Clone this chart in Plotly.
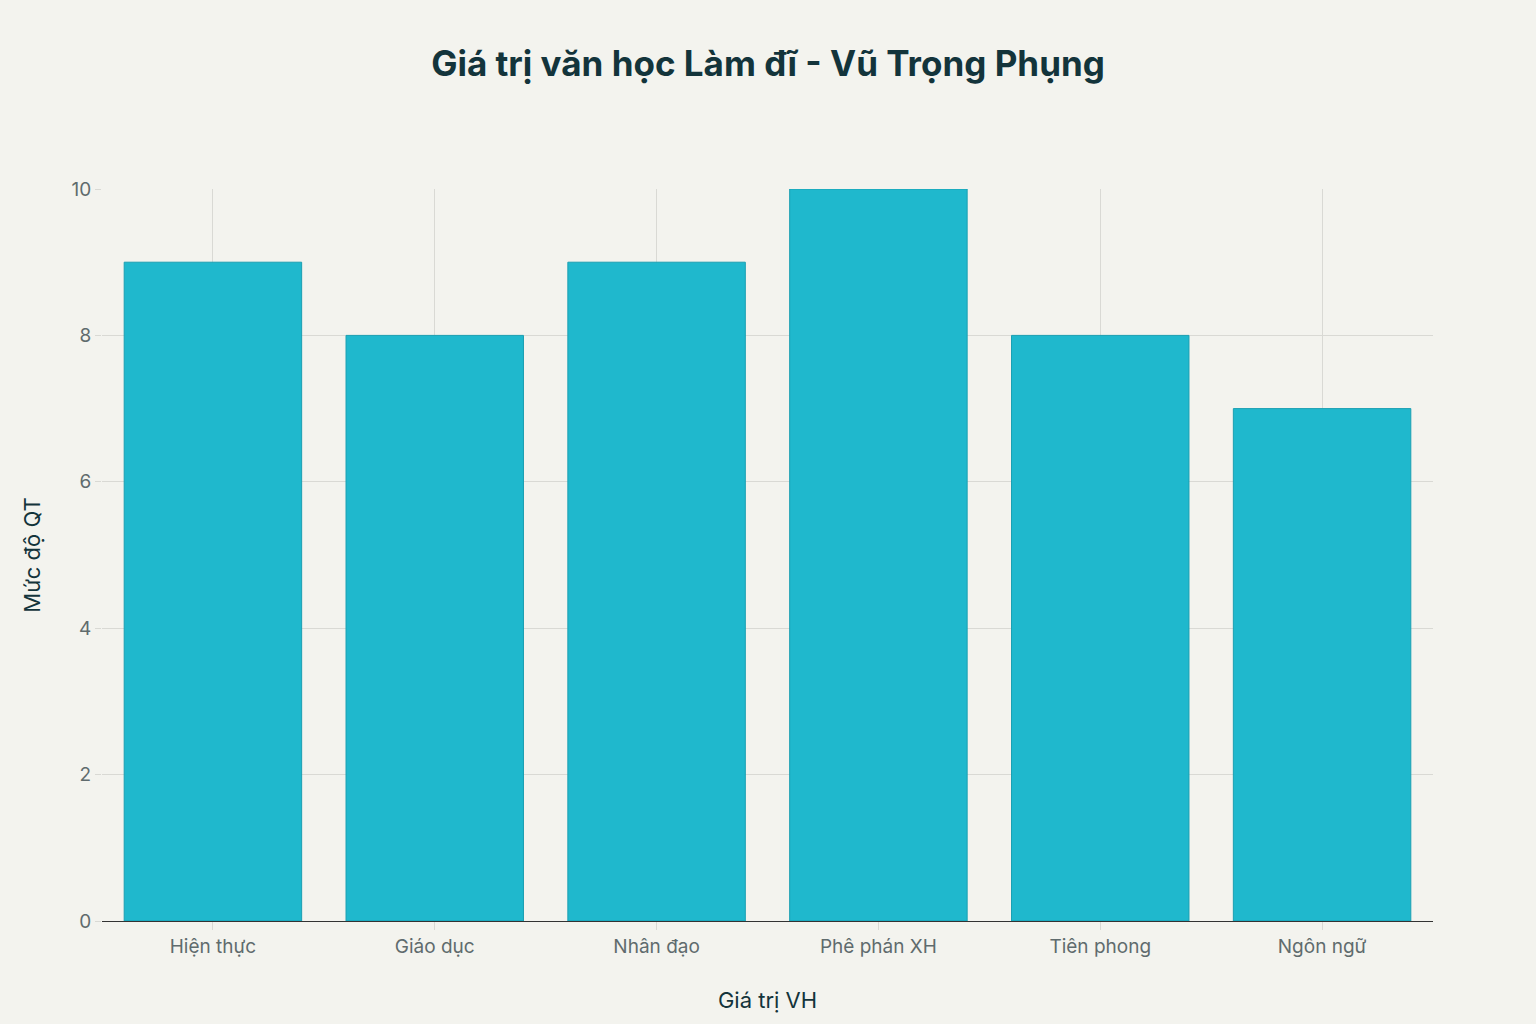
import plotly.graph_objects as go

categories = ["Hiện thực", "Giáo dục", "Nhân đạo", "Phê phán XH", "Tiên phong", "Ngôn ngữ"]
values = [9, 8, 9, 10, 8, 7]
y_ticks = [0, 2, 4, 6, 8, 10]

fig = go.Figure(go.Bar(
    x=categories, y=values,
    marker=dict(color="#1FB8CD", line=dict(color="#1A9FB2", width=1)),
))

fig.update_layout(
    width=1536, height=1024,
    paper_bgcolor="#F3F3EE", plot_bgcolor="#F3F3EE",
    font=dict(family="Inter, Liberation Sans, sans-serif", color="#13343B"),
    title=dict(text="<b>Giá trị văn học Làm đĩ - Vũ Trọng Phụng</b>", x=0.5, xanchor="center",
               y=0.938, yanchor="middle", font=dict(size=35, color="#13343B")),
    margin=dict(l=102, r=103, t=189, b=103),
    bargap=0.2,
    showlegend=False,
    xaxis=dict(
        title=dict(text="Giá trị VH", font=dict(size=22, color="#13343B"), standoff=35),
        tickfont=dict(size=19, color="#5F6B6D"),
        showgrid=True, gridcolor="#D9D9D4", gridwidth=1,
        showline=True, linecolor="#333333", linewidth=1,
        ticks="outside", ticklen=8, tickcolor="#D9D9D4",
    ),
    yaxis=dict(
        title=dict(text="Mức độ QT", font=dict(size=22, color="#13343B"), standoff=24),
        range=[0, 10], tickvals=y_ticks,
        tickfont=dict(size=19, color="#5F6B6D"),
        showgrid=True, gridcolor="#D9D9D4", gridwidth=1,
        zeroline=False, showline=False,
        ticks="outside", ticklen=6, tickcolor="#D9D9D4",
    ),
)

fig.write_html("out.html", config={"displayModeBar": False},
               post_script="document.body.style.margin='0';")
